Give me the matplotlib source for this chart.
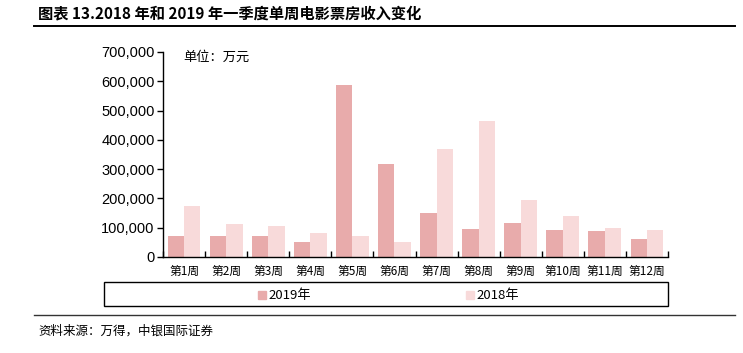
import matplotlib.pyplot as plt
import numpy as np
from matplotlib.patches import Rectangle

plt.rcParams['font.family'] = ['Noto Sans CJK SC', 'DejaVu Sans']

weeks = ['第1周', '第2周', '第3周', '第4周', '第5周', '第6周',
         '第7周', '第8周', '第9周', '第10周', '第11周', '第12周']
box_2019 = [72000, 72000, 72000, 50000, 586000, 318000,
            149000, 96000, 116000, 91000, 88000, 60000]
box_2018 = [173000, 112000, 105000, 83000, 72000, 50000,
            368000, 466000, 194000, 139000, 98000, 91000]

c2019 = '#E8ABAB'
c2018 = '#F8DADA'

W, H = 743, 353
fig = plt.figure(figsize=(W / 100, H / 100), dpi=100)

ax = fig.add_axes([163 / W, 1 - 257 / H, 505 / W, 205 / H])
x = np.arange(len(weeks))
bw = 0.39
ax.bar(x - bw / 2, box_2019, bw, color=c2019, label='2019年')
ax.bar(x + bw / 2, box_2018, bw, color=c2018, label='2018年')

ax.set_xlim(-0.5, len(weeks) - 0.5)
ax.set_ylim(0, 700000)
ax.set_yticks(np.arange(0, 700001, 100000))
ax.set_yticklabels([f'{v:,}' for v in range(0, 700001, 100000)],
                   fontfamily='Liberation Sans', fontsize=10.5)
ax.set_xticks(x)
ax.set_xticklabels(weeks, fontsize=8.5)
ax.tick_params(axis='x', length=0, pad=6)
ax.set_xticks(np.arange(-0.5, len(weeks)), minor=True)
ax.tick_params(axis='x', which='minor', direction='in', length=4, width=1)
ax.tick_params(axis='y', direction='out', length=4, width=1, pad=2)
for s in ['top', 'right']:
    ax.spines[s].set_visible(False)
ax.spines['left'].set_linewidth(1)
ax.spines['bottom'].set_linewidth(1)

ax.text(20 / 505, 1 - 5 / 205, '单位：万元', transform=ax.transAxes,
        fontsize=9.5, va='center', ha='left')

# legend box
fig.patches.append(Rectangle((104 / W, 1 - 306 / H), 564 / W, 24 / H,
                             transform=fig.transFigure, fill=False,
                             edgecolor='black', linewidth=1))
for px, col, lab in [(258, c2019, '2019年'), (466, c2018, '2018年')]:
    fig.patches.append(Rectangle((px / W, 1 - 299 / H), 8 / W, 8 / H,
                                 transform=fig.transFigure, color=col))
    fig.text((px + 10) / W, 1 - 295 / H, lab, fontsize=9.5,
             va='center', ha='left')

fig.text(38 / W, 1 - 13 / H, '图表 13.2018 年和 2019 年一季度单周电影票房收入变化',
         fontsize=11, fontweight='bold', va='center', ha='left')
fig.add_artist(plt.Line2D([34 / W, 735 / W], [1 - 26 / H, 1 - 26 / H],
                          color='black', linewidth=1.4))
fig.add_artist(plt.Line2D([34 / W, 735 / W], [1 - 315 / H, 1 - 315 / H],
                          color='#333333', linewidth=1))
fig.text(38 / W, 1 - 331 / H, '资料来源：万得，中银国际证券', fontsize=9,
         style='italic', va='center', ha='left')

fig.savefig('out.png', dpi=100)
